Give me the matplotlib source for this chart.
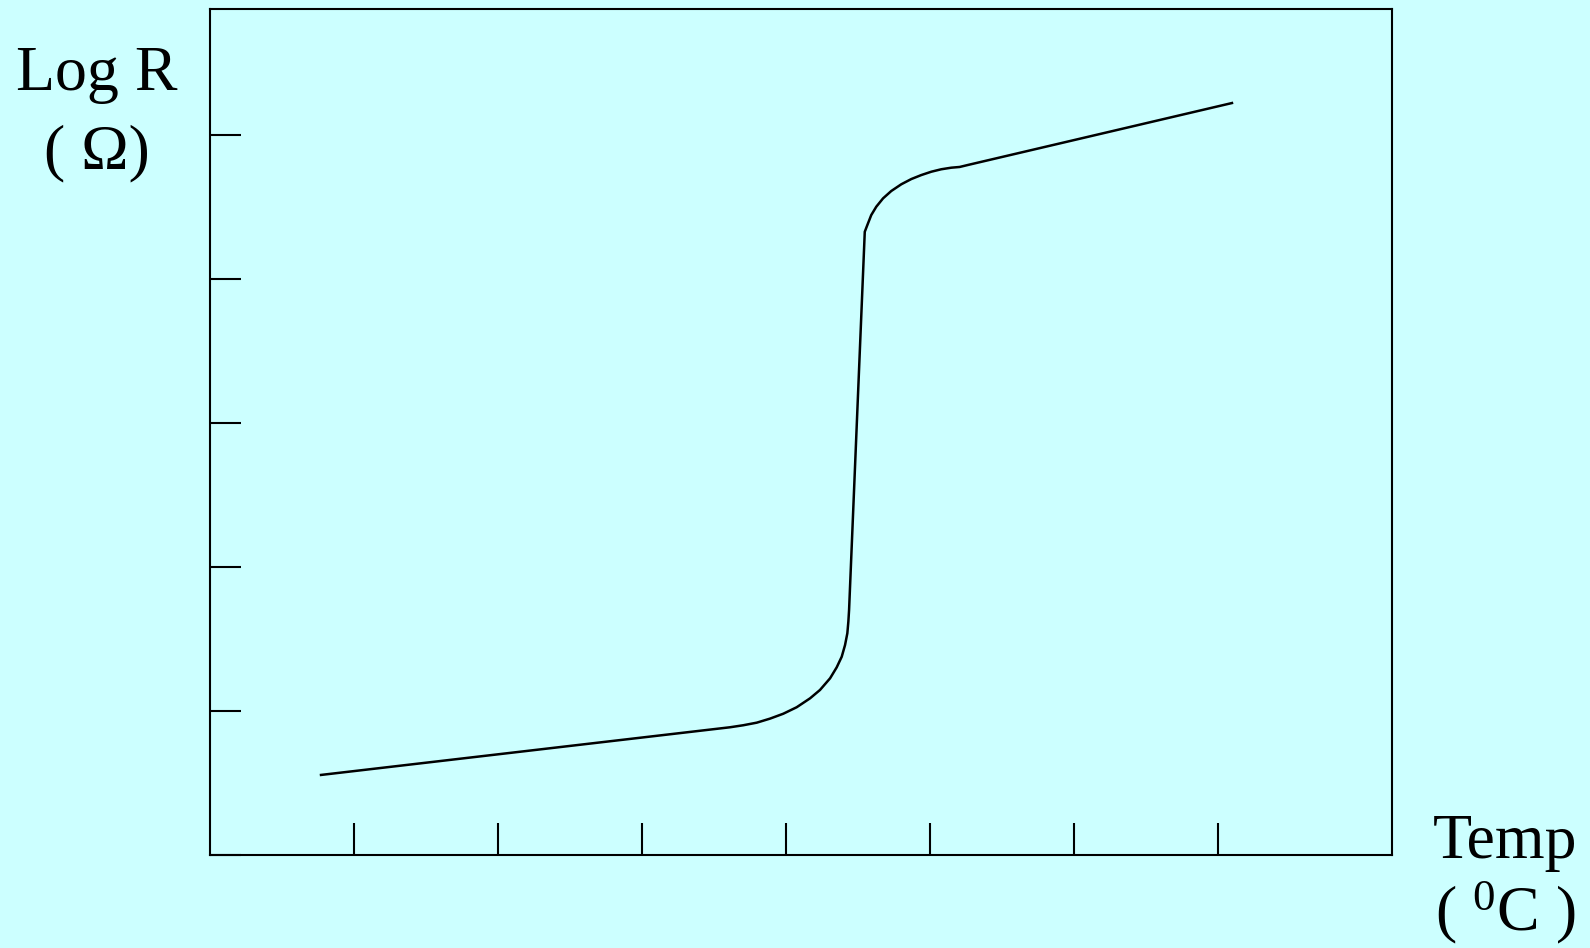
import numpy as np
import matplotlib
matplotlib.use('Agg')
import matplotlib.pyplot as plt

# кривая log R(T), точки (в делениях осей)
temp = [0.771,
        3.611, 3.703, 3.797, 3.889, 3.981, 4.074, 4.167, 4.236, 4.306, 4.352,
        4.387, 4.410, 4.426, 4.433, 4.438,
        4.547, 4.565, 4.592, 4.627, 4.674, 4.731, 4.801, 4.870, 4.940, 5.009,
        5.078, 5.148, 5.206, 5.264,
        7.097]
log_r = [0.556,
         0.887, 0.901, 0.919, 0.947, 0.981, 1.026, 1.088, 1.146, 1.227, 1.303,
         1.377, 1.458, 1.540, 1.620, 1.701,
         4.328, 4.375, 4.444, 4.502, 4.560, 4.611, 4.658, 4.694, 4.722, 4.745,
         4.762, 4.773, 4.778, 4.792,
         5.222]

x_ticks = [1, 2, 3, 4, 5, 6, 7]
y_ticks = [0, 1, 2, 3, 4, 5]

bg = '#ccffff'
plt.rcParams['font.family'] = 'Liberation Serif'
plt.rcParams['mathtext.fontset'] = 'custom'
plt.rcParams['mathtext.rm'] = 'Liberation Serif'

fig = plt.figure(figsize=(15.9, 9.48), dpi=100, facecolor=bg)
ax = fig.add_axes([210/1590, 93/948, 1182/1590, 846/948])
ax.set_facecolor(bg)

ax.plot(temp, log_r, color='black', lw=1.8, solid_joinstyle='round')

ax.set_xlim(0, 1182/144)
ax.set_ylim(0, 846/144)
ax.set_xticks(x_ticks)
ax.set_yticks(y_ticks)
ax.set_xticklabels([])
ax.set_yticklabels([])
ax.tick_params(axis='x', direction='in', length=23, width=1.5)
ax.tick_params(axis='y', direction='in', length=22, width=1.5)
for s in ax.spines.values():
    s.set_linewidth(1.5)

fs = 46
fig.text(97/1590, 1 - 90/948, 'Log R', ha='center', va='baseline', fontsize=fs)
fig.text(97/1590, 1 - 168/948, '( \u03a9)', ha='center', va='baseline', fontsize=fs)
fig.text(1505/1590, 1 - 858/948, 'Temp', ha='center', va='baseline', fontsize=fs)
fig.text(1505/1590, 1 - 930/948, '( $\\mathregular{^0}$C )', ha='center', va='baseline', fontsize=fs)

fig.savefig('out.png', dpi=100, facecolor=bg)
